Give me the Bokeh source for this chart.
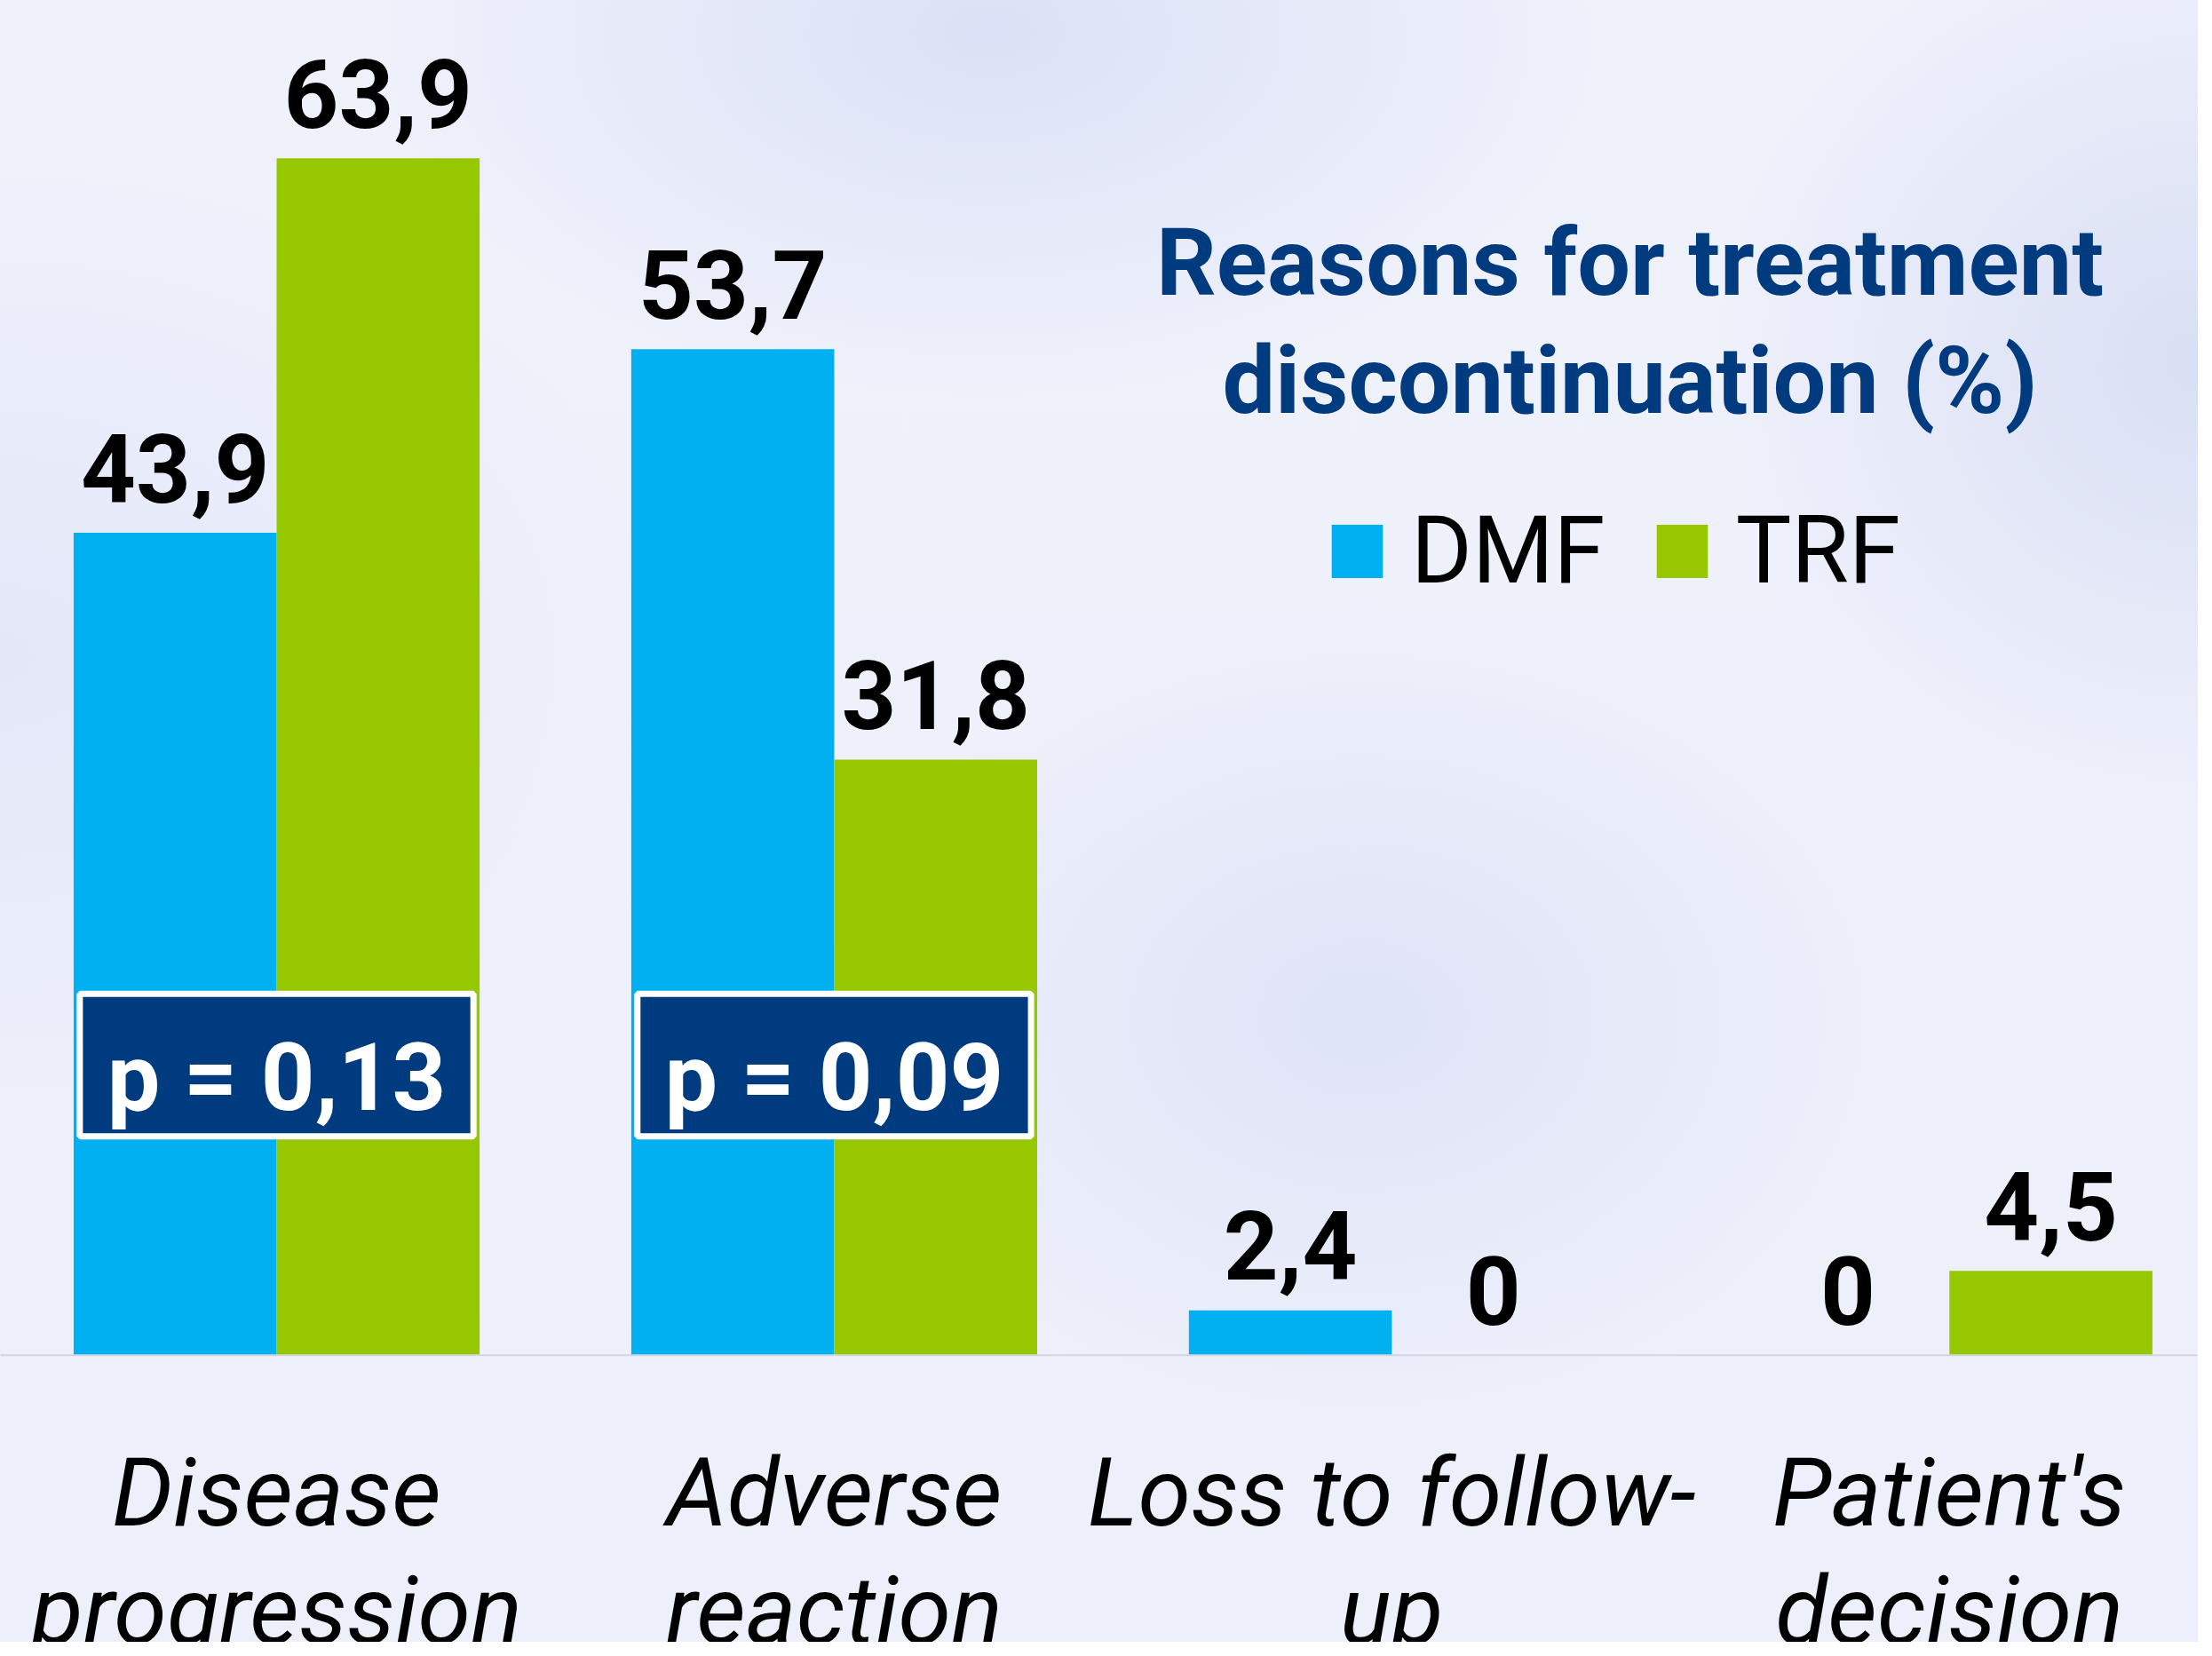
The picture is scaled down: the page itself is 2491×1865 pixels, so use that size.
from bokeh.plotting import figure
from bokeh.models import Range1d, Span, Legend, LegendItem, ColumnDataSource
from bokeh.core.properties import value
from bokeh.embed import file_html
from bokeh.resources import INLINE

# ---- data ----
categories = ["Disease\nprogression", "Adverse\nreaction", "Loss to follow-\nup", "Patient's\ndecision"]
dmf = [43.9, 53.7, 2.4, 0.0]
trf = [63.9, 31.8, 0.0, 4.5]
dmf_labels = ["43,9", "53,7", "2,4", "0"]
trf_labels = ["63,9", "31,8", "0", "4,5"]
p_values = ["p = 0,13", "p = 0,09"]
series_names = ["DMF", "TRF"]
title_lines = ["Reasons for treatment", "discontinuation (%)"]

DMF_C = "#00B0F0"
TRF_C = "#97C700"
NAVY = "#003B7F"
FONT = "Roboto"
F = value(FONT)


def fix(size):
    # renderer places the alphabetic baseline ~0.34em below the anchor; compensate
    return -round(0.34 * size)


W, H = 2475, 1849
p = figure(width=W, height=H, output_backend="svg", toolbar_location=None,
           x_range=Range1d(-0.4953, 3.4462), y_range=Range1d(-15.32, 72.32),
           min_border=0, outline_line_color=None)
p.xaxis.visible = False
p.yaxis.visible = False
p.xgrid.visible = False
p.ygrid.visible = False
p.background_fill_alpha = 0
p.border_fill_alpha = 0
p.styles = {"background": (
    "radial-gradient(ellipse 28% 22% at 45% 2%, #dbe1f6 0%, rgba(219,225,246,0) 100%),"
    "radial-gradient(ellipse 22% 28% at 100% 22%, #d9dff4 0%, rgba(217,223,244,0) 100%),"
    "radial-gradient(ellipse 25% 25% at 62% 62%, #dfe3f7 0%, rgba(223,227,247,0) 100%),"
    "radial-gradient(ellipse 30% 30% at 0% 40%, #e3e7f8 0%, rgba(227,231,248,0) 100%),"
    "linear-gradient(180deg, #eff1fb, #edf0fa)")}

xs = list(range(len(categories)))
bw = 0.364
src = ColumnDataSource(dict(
    x=xs, dmf=dmf, trf=trf, dmf_lab=dmf_labels, trf_lab=trf_labels,
    xd=[x - bw / 2 for x in xs], xt=[x + bw / 2 for x in xs],
))

r_dmf = p.vbar(x="xd", top="dmf", width=bw, bottom=0, source=src, fill_color=DMF_C, line_color=None)
r_trf = p.vbar(x="xt", top="trf", width=bw, bottom=0, source=src, fill_color=TRF_C, line_color=None)

p.add_layout(Span(location=0, dimension="width", line_color="#D2D5E2", line_width=2))

# value labels
for xcol, ycol, tcol in [("xd", "dmf", "dmf_lab"), ("xt", "trf", "trf_lab")]:
    p.text(x=xcol, y=ycol, text=tcol, source=src, text_align="center", text_baseline="alphabetic",
           y_offset=-36 + fix(108), text_font=F, text_font_style="bold", text_font_size="108px",
           text_color="black")

# p-value boxes
px = xs[:len(p_values)]
p.quad(left=[x - 0.353 for x in px], right=[x + 0.353 for x in px], bottom=11.68, top=19.29,
       fill_color=NAVY, line_color="white", line_width=7)
p.text(x=px, y=13.1, text=p_values, text_align="center", text_baseline="alphabetic", y_offset=fix(106),
       text_font=F, text_font_style="bold", text_font_size="106px", text_color="white")

# category labels (two lines)
l1 = [c.split("\n")[0] for c in categories]
l2 = [c.split("\n")[1] for c in categories]
p.text(x=xs, y=-9.1, text=l1, text_align="center", text_baseline="alphabetic", y_offset=fix(108),
       text_font=F, text_font_style="italic", text_font_size="108px", text_color="black")
p.text(x=xs, y=-15.4, text=l2, text_align="center", text_baseline="alphabetic", y_offset=fix(108),
       text_font=F, text_font_style="italic", text_font_size="108px", text_color="black")

# title
p.text(x=[2.427, 2.427], y=[56.63, 50.28], text=title_lines, text_align="center", text_baseline="alphabetic",
       y_offset=fix(106), text_font=F, text_font_style="bold", text_font_size="106px", text_color=NAVY)

# legend
legend = Legend(items=[LegendItem(label=series_names[0], renderers=[r_dmf]),
                       LegendItem(label=series_names[1], renderers=[r_trf])],
                orientation="horizontal", location=(1492, 1167),
                label_text_font=FONT, label_text_font_size="105px", label_text_color="black",
                glyph_width=72, glyph_height=75, label_standoff=25, spacing=50,
                padding=0, margin=0, border_line_alpha=0, background_fill_alpha=0)
p.add_layout(legend)

open("out.html", "w").write(file_html(p, INLINE))
